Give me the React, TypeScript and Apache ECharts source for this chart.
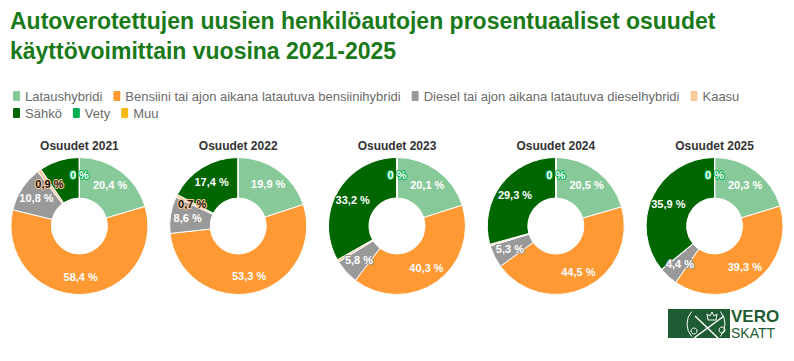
import React, { useEffect, useRef } from "react";
import * as echarts from "echarts";

const categories = [
  "Lataushybridi",
  "Bensiini tai ajon aikana latautuva bensiinihybridi",
  "Diesel tai ajon aikana latautuva dieselhybridi",
  "Kaasu",
  "Sähkö",
  "Vety",
  "Muu",
];
const colors = ["#88c999", "#ff9933", "#999999", "#f8c99c", "#006600", "#00b050", "#f4b915"];
const years = ["2021", "2022", "2023", "2024", "2025"];
const v2021 = [20.4, 58.4, 10.8, 0.9, 9.5, 0, 0];
const v2022 = [19.9, 53.3, 8.6, 0.7, 17.4, 0, 0];
const v2023 = [20.1, 40.3, 5.8, 0.6, 33.2, 0, 0];
const v2024 = [20.5, 44.5, 5.3, 0.4, 29.3, 0, 0];
const v2025 = [20.3, 39.3, 4.4, 0.1, 35.9, 0, 0];
const values = [v2021, v2022, v2023, v2024, v2025];
const hiddenLabels: string[][] = [
  ["Sähkö", "Muu"],
  ["Muu"],
  ["Kaasu", "Muu"],
  ["Kaasu", "Muu"],
  ["Kaasu", "Muu"],
];
const titleText = "Autoverotettujen uusien henkilöautojen prosentuaaliset osuudet\nkäyttövoimittain vuosina 2021-2025";

const W = 794;
const H = 361;

export default function App() {
  const ref = useRef<HTMLDivElement>(null);
  useEffect(() => {
    if (!ref.current) return;
    const chart = echarts.init(ref.current, null, { renderer: "svg" });
    const colW = W / years.length;
    const cy = 226;
    const series = years.map((y, i) => ({
      type: "pie",
      name: "Osuudet " + y,
      center: [colW * i + colW / 2, cy],
      radius: [28, 68.5],
      startAngle: 90,
      clockwise: true,
      avoidLabelOverlap: false,
      itemStyle: { borderColor: "#ffffff", borderWidth: 1 },
      label: {
        show: true,
        position: "inside",
        fontFamily: "Liberation Sans",
        fontWeight: "bold",
        fontSize: 11,
        color: "#ffffff",
        textBorderWidth: 2,
        formatter: (p: any) => String(p.value).replace(".", ",") + " %",
      },
      labelLine: { show: false },
      emphasis: { disabled: true },
      data: categories.map((c, k) => ({
        name: c,
        value: values[i][k],
        itemStyle: { color: colors[k] },
        label: {
          show: !hiddenLabels[i].includes(c),
          textBorderColor: colors[k],
          color: c === "Kaasu" ? "#111111" : "#ffffff",
        },
      })),
    }));
    const titles: any[] = [
      {
        text: titleText,
        left: 10,
        top: 6,
        padding: 0,
        textStyle: {
          fontFamily: "Liberation Sans",
          fontWeight: "bold",
          fontSize: 23,
          lineHeight: 30,
          color: "#1a7a1a",
        },
      },
      ...years.map((y, i) => ({
        text: "Osuudet " + y,
        left: colW * i + colW / 2,
        textAlign: "center",
        top: 140,
        padding: 0,
        textStyle: {
          fontFamily: "Liberation Sans",
          fontWeight: "bold",
          fontSize: 12,
          color: "#333333",
        },
      })),
    ];
    const legendCommon = {
      orient: "horizontal",
      icon: "roundRect",
      itemWidth: 9,
      itemHeight: 12,
      itemGap: 9,
      padding: 0,
      selectedMode: false,
      textStyle: { fontFamily: "Liberation Sans", fontSize: 13, color: "#6b6b6b", padding: [0, 0, 0, -1] },
    };
    const option: any = {
      animation: false,
      color: colors,
      title: titles,
      legend: [
        { ...legendCommon, left: 11, top: 89, data: categories.slice(0, 4) },
        { ...legendCommon, left: 11, top: 106, data: categories.slice(4) },
      ],
      series,
      graphic: [
        { type: "rect", shape: { x: 668, y: 309, width: 62, height: 29 }, style: { fill: "#1f5c34" } },
        { type: "arc", shape: { cx: 706, cy: 324, r: 19, startAngle: -0.72, endAngle: 0.72 }, style: { stroke: "#ffffff", lineWidth: 1, fill: null } },
        { type: "arc", shape: { cx: 706, cy: 324, r: 19, startAngle: Math.PI - 0.72, endAngle: Math.PI + 0.72 }, style: { stroke: "#ffffff", lineWidth: 1, fill: null } },
        { type: "line", shape: { x1: 695, y1: 316, x2: 718, y2: 338 }, style: { stroke: "#ffffff", lineWidth: 1.5 } },
        { type: "line", shape: { x1: 694, y1: 338, x2: 724, y2: 316 }, style: { stroke: "#ffffff", lineWidth: 1.5 } },
        { type: "circle", shape: { cx: 694, cy: 331, r: 3 }, style: { stroke: "#ffffff", lineWidth: 1, fill: null } },
        { type: "circle", shape: { cx: 722, cy: 330, r: 3 }, style: { stroke: "#ffffff", lineWidth: 1, fill: null } },
        { type: "polyline", shape: { points: [[708, 320], [707, 314], [710, 316], [712, 312], [714, 316], [717, 314], [716, 320], [708, 320]] }, style: { stroke: "#ffffff", lineWidth: 1, fill: null } },
        { type: "text", x: 731, y: 316.5, style: { text: "VERO", fontFamily: "Liberation Sans", fontWeight: "bold", fontSize: 17, fill: "#1f5c34", verticalAlign: "middle" } },
        { type: "text", x: 731, y: 333, style: { text: "SKATT", fontFamily: "Liberation Sans", fontSize: 14, fill: "#1f5c34", verticalAlign: "middle" } },
      ],
    };
    chart.setOption(option);
    return () => chart.dispose();
  }, []);
  return (
    <div
      ref={ref}
      style={{ position: "fixed", left: 0, top: 0, width: W, height: H, background: "#ffffff" }}
    />
  );
}
